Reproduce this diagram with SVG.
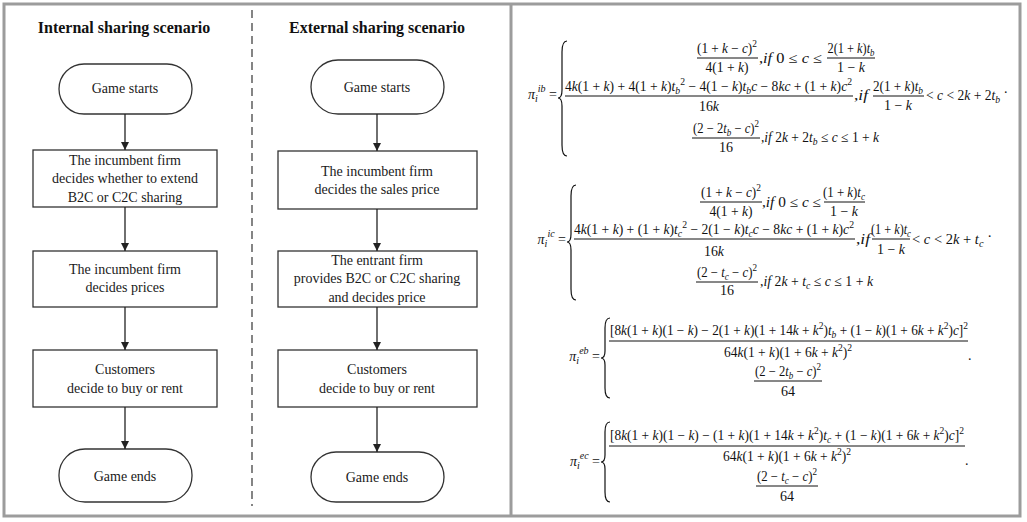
<svg xmlns="http://www.w3.org/2000/svg" width="1027" height="522" viewBox="0 0 1027 522">
<defs>
<style>
.frame{fill:none;stroke:#9c9c9c;stroke-width:3}
.title{font-family:"Liberation Serif","Times New Roman",serif;font-size:16px;font-weight:bold;fill:#111;text-anchor:middle}
.box{fill:#fff;stroke:#333;stroke-width:1.3}
.lbl{font-family:"Liberation Serif","Times New Roman",serif;font-size:14px;fill:#1a1a1a;text-anchor:middle}
.conn{stroke:#222;stroke-width:1.3;fill:none}
.dash{stroke:#444;stroke-width:1.3;stroke-dasharray:8,5}
.m{font-family:"Liberation Serif","DejaVu Serif",serif;font-size:14px;fill:#111}
.c{text-anchor:middle}
.e{text-anchor:end}
.i{font-style:italic}
.s{font-size:10px}
.bar{stroke:#111;stroke-width:1}
.brace{fill:none;stroke:#111;stroke-width:1.2}
</style>
<marker id="ah" markerWidth="8" markerHeight="8" refX="8" refY="4" orient="auto" markerUnits="userSpaceOnUse">
<path d="M0,0 L8,4 L0,8 z" fill="#222"/>
</marker>
</defs>
<rect x="0" y="0" width="1027" height="522" fill="#fff"/>
<rect class="frame" x="4" y="4" width="1016" height="512"/>
<line x1="511" y1="4" x2="511" y2="516" stroke="#9c9c9c" stroke-width="3"/>

<line class="dash" x1="252" y1="10" x2="252" y2="506"/>
<text class="title" x="124" y="33">Internal sharing scenario</text>
<text class="title" x="377" y="33">External sharing scenario</text>

<g id="int-start"><rect class="box" x="59" y="64" width="133" height="50" rx="25"/><text class="lbl" x="125" y="93">Game starts</text></g>
<g id="int-decide-sharing"><rect class="box" x="33" y="150" width="184" height="57"/><text class="lbl" x="125" y="165">The incumbent firm</text><text class="lbl" x="125" y="183">decides whether to extend</text><text class="lbl" x="125" y="202">B2C or C2C sharing</text></g>
<g id="int-decide-prices"><rect class="box" x="33" y="251" width="184" height="56"/><text class="lbl" x="125" y="274">The incumbent firm</text><text class="lbl" x="125" y="292">decides prices</text></g>
<g id="int-customers"><rect class="box" x="33" y="350" width="184" height="57"/><text class="lbl" x="125" y="374">Customers</text><text class="lbl" x="125" y="393">decide to buy or rent</text></g>
<g id="int-end"><rect class="box" x="59" y="449" width="133" height="53" rx="26"/><text class="lbl" x="125" y="481">Game ends</text></g>

<g id="ext-start"><rect class="box" x="311" y="60" width="133" height="54" rx="27"/><text class="lbl" x="377" y="92">Game starts</text></g>
<g id="ext-sales-price"><rect class="box" x="278" y="151" width="199" height="58"/><text class="lbl" x="377" y="176">The incumbent firm</text><text class="lbl" x="377" y="194">decides the sales price</text></g>
<g id="ext-entrant"><rect class="box" x="278" y="251" width="199" height="56"/><text class="lbl" x="377" y="265">The entrant firm</text><text class="lbl" x="377" y="283">provides B2C or C2C sharing</text><text class="lbl" x="377" y="302">and decides price</text></g>
<g id="ext-customers"><rect class="box" x="278" y="350" width="199" height="57"/><text class="lbl" x="377" y="374">Customers</text><text class="lbl" x="377" y="393">decide to buy or rent</text></g>
<g id="ext-end"><rect class="box" x="311" y="452" width="133" height="50" rx="25"/><text class="lbl" x="377" y="482">Game ends</text></g>

<g id="connectors">
<line class="conn" x1="125" y1="114" x2="125" y2="150" marker-end="url(#ah)"/>
<line class="conn" x1="125" y1="207" x2="125" y2="251" marker-end="url(#ah)"/>
<line class="conn" x1="125" y1="307" x2="125" y2="350" marker-end="url(#ah)"/>
<line class="conn" x1="125" y1="407" x2="125" y2="449" marker-end="url(#ah)"/>
<line class="conn" x1="377" y1="114" x2="377" y2="151" marker-end="url(#ah)"/>
<line class="conn" x1="377" y1="209" x2="377" y2="251" marker-end="url(#ah)"/>
<line class="conn" x1="377" y1="307" x2="377" y2="350" marker-end="url(#ah)"/>
<line class="conn" x1="377" y1="407" x2="377" y2="452" marker-end="url(#ah)"/>
</g>

<g id="eq-ib">
<text class="m e" x="557" y="99"><tspan class="i">π</tspan><tspan class="i s" dy="3">i</tspan><tspan class="i s" dy="-10">ib</tspan><tspan dy="7"> =</tspan></text>
<path class="brace" d="M567,41 Q562,41 562,52 L562,90 Q562,98 558,98 Q562,98 562,106 L562,145 Q562,156 567,156"/>
<text class="m c" x="727" y="53" textLength="60" lengthAdjust="spacingAndGlyphs">(1 + <tspan class="i">k</tspan> − <tspan class="i">c</tspan>)<tspan class="s" dy="-6">2</tspan></text>
<line class="bar" x1="697" y1="58" x2="758" y2="58"/>
<text class="m c" x="727" y="72" textLength="43" lengthAdjust="spacingAndGlyphs">4(1 + <tspan class="i">k</tspan>)</text>
<text class="m" x="759" y="63" textLength="63" lengthAdjust="spacingAndGlyphs">,<tspan class="i">if</tspan> 0 ≤ <tspan class="i">c</tspan> ≤</text>
<text class="m c" x="851" y="53" textLength="47" lengthAdjust="spacingAndGlyphs">2(1 + <tspan class="i">k</tspan>)<tspan class="i">t</tspan><tspan class="i s" dy="3">b</tspan></text>
<line class="bar" x1="827" y1="58" x2="875" y2="58"/>
<text class="m c" x="851" y="72" textLength="28" lengthAdjust="spacingAndGlyphs">1 − <tspan class="i">k</tspan></text>

<text class="m" x="565" y="91" textLength="287" lengthAdjust="spacingAndGlyphs">4<tspan class="i">k</tspan>(1 + <tspan class="i">k</tspan>) + 4(1 + <tspan class="i">k</tspan>)<tspan class="i">t</tspan><tspan class="i s" dy="3">b</tspan><tspan class="s" dy="-9">2</tspan><tspan dy="6"> − 4(1 − </tspan><tspan class="i">k</tspan>)<tspan class="i">t</tspan><tspan class="i s" dy="3">b</tspan><tspan class="i" dy="-3">c</tspan> − 8<tspan class="i">kc</tspan> + (1 + <tspan class="i">k</tspan>)<tspan class="i">c</tspan><tspan class="s" dy="-6">2</tspan></text>
<line class="bar" x1="565" y1="96" x2="853" y2="96"/>
<text class="m c" x="709" y="111" textLength="20" lengthAdjust="spacingAndGlyphs">16<tspan class="i">k</tspan></text>
<text class="m" x="854" y="100" textLength="14" lengthAdjust="spacingAndGlyphs">,<tspan class="i">if</tspan></text>
<text class="m c" x="898" y="91" textLength="50" lengthAdjust="spacingAndGlyphs">2(1 + <tspan class="i">k</tspan>)<tspan class="i">t</tspan><tspan class="i s" dy="3">b</tspan></text>
<line class="bar" x1="873" y1="96" x2="924" y2="96"/>
<text class="m c" x="898" y="110" textLength="28" lengthAdjust="spacingAndGlyphs">1 − <tspan class="i">k</tspan></text>
<text class="m" x="926" y="100" textLength="82" lengthAdjust="spacingAndGlyphs">&lt; <tspan class="i">c</tspan> &lt; 2<tspan class="i">k</tspan> + 2<tspan class="i">t</tspan><tspan class="i s" dy="3">b</tspan><tspan dy="-6"> ·</tspan></text>

<text class="m c" x="726" y="133" textLength="66" lengthAdjust="spacingAndGlyphs">(2 − 2<tspan class="i">t</tspan><tspan class="i s" dy="3">b</tspan><tspan dy="-3"> − </tspan><tspan class="i">c</tspan>)<tspan class="s" dy="-6">2</tspan></text>
<line class="bar" x1="692" y1="138" x2="760" y2="138"/>
<text class="m c" x="726" y="152" textLength="14" lengthAdjust="spacingAndGlyphs">16</text>
<text class="m" x="761" y="142" textLength="118" lengthAdjust="spacingAndGlyphs">,<tspan class="i">if</tspan> 2<tspan class="i">k</tspan> + 2<tspan class="i">t</tspan><tspan class="i s" dy="3">b</tspan><tspan dy="-3"> ≤ </tspan><tspan class="i">c</tspan> ≤ 1 + <tspan class="i">k</tspan></text>
</g>

<g id="eq-ic">
<text class="m e" x="566" y="244"><tspan class="i">π</tspan><tspan class="i s" dy="3">i</tspan><tspan class="i s" dy="-10">ic</tspan><tspan dy="7"> =</tspan></text>
<path class="brace" d="M576,185 Q571,185 571,196 L571,234 Q571,242 567,242 Q571,242 571,250 L571,289 Q571,300 576,300"/>
<text class="m c" x="731" y="197" textLength="60" lengthAdjust="spacingAndGlyphs">(1 + <tspan class="i">k</tspan> − <tspan class="i">c</tspan>)<tspan class="s" dy="-6">2</tspan></text>
<line class="bar" x1="700" y1="202" x2="762" y2="202"/>
<text class="m c" x="731" y="216" textLength="43" lengthAdjust="spacingAndGlyphs">4(1 + <tspan class="i">k</tspan>)</text>
<text class="m" x="762" y="207" textLength="59" lengthAdjust="spacingAndGlyphs">,<tspan class="i">if</tspan> 0 ≤ <tspan class="i">c</tspan> ≤</text>
<text class="m c" x="844" y="197" textLength="42" lengthAdjust="spacingAndGlyphs">(1 + <tspan class="i">k</tspan>)<tspan class="i">t</tspan><tspan class="i s" dy="3">c</tspan></text>
<line class="bar" x1="824" y1="202" x2="865" y2="202"/>
<text class="m c" x="844" y="216" textLength="28" lengthAdjust="spacingAndGlyphs">1 − <tspan class="i">k</tspan></text>

<text class="m" x="574" y="234" textLength="280" lengthAdjust="spacingAndGlyphs">4<tspan class="i">k</tspan>(1 + <tspan class="i">k</tspan>) + (1 + <tspan class="i">k</tspan>)<tspan class="i">t</tspan><tspan class="i s" dy="3">c</tspan><tspan class="s" dy="-9">2</tspan><tspan dy="6"> − 2(1 − </tspan><tspan class="i">k</tspan>)<tspan class="i">t</tspan><tspan class="i s" dy="3">c</tspan><tspan class="i" dy="-3">c</tspan> − 8<tspan class="i">kc</tspan> + (1 + <tspan class="i">k</tspan>)<tspan class="i">c</tspan><tspan class="s" dy="-6">2</tspan></text>
<line class="bar" x1="574" y1="239" x2="855" y2="239"/>
<text class="m c" x="714" y="256" textLength="20" lengthAdjust="spacingAndGlyphs">16<tspan class="i">k</tspan></text>
<text class="m" x="856" y="244" textLength="14" lengthAdjust="spacingAndGlyphs">,<tspan class="i">if</tspan></text>
<text class="m c" x="891" y="234" textLength="40" lengthAdjust="spacingAndGlyphs">(1 + <tspan class="i">k</tspan>)<tspan class="i">t</tspan><tspan class="i s" dy="3">c</tspan></text>
<line class="bar" x1="872" y1="239" x2="910" y2="239"/>
<text class="m c" x="891" y="254" textLength="28" lengthAdjust="spacingAndGlyphs">1 − <tspan class="i">k</tspan></text>
<text class="m" x="912" y="244" textLength="80" lengthAdjust="spacingAndGlyphs">&lt; <tspan class="i">c</tspan> &lt; 2<tspan class="i">k</tspan> + <tspan class="i">t</tspan><tspan class="i s" dy="3">c</tspan><tspan dy="-6"> ·</tspan></text>

<text class="m c" x="727" y="277" textLength="60" lengthAdjust="spacingAndGlyphs">(2 − <tspan class="i">t</tspan><tspan class="i s" dy="3">c</tspan><tspan dy="-3"> − </tspan><tspan class="i">c</tspan>)<tspan class="s" dy="-6">2</tspan></text>
<line class="bar" x1="696" y1="282" x2="758" y2="282"/>
<text class="m c" x="727" y="295" textLength="14" lengthAdjust="spacingAndGlyphs">16</text>
<text class="m" x="760" y="286" textLength="113" lengthAdjust="spacingAndGlyphs">,<tspan class="i">if</tspan> 2<tspan class="i">k</tspan> + <tspan class="i">t</tspan><tspan class="i s" dy="3">c</tspan><tspan dy="-3"> ≤ </tspan><tspan class="i">c</tspan> ≤ 1 + <tspan class="i">k</tspan></text>
</g>

<g id="eq-eb">
<text class="m e" x="600" y="361"><tspan class="i">π</tspan><tspan class="i s" dy="3">i</tspan><tspan class="i s" dy="-10">eb</tspan><tspan dy="7"> =</tspan></text>
<path class="brace" d="M610,318 Q605,318 605,328 L605,351 Q605,358 601,358 Q605,358 605,365 L605,388 Q605,398 610,398"/>
<text class="m" x="610" y="335" textLength="358" lengthAdjust="spacingAndGlyphs">[8<tspan class="i">k</tspan>(1 + <tspan class="i">k</tspan>)(1 − <tspan class="i">k</tspan>) − 2(1 + <tspan class="i">k</tspan>)(1 + 14<tspan class="i">k</tspan> + <tspan class="i">k</tspan><tspan class="s" dy="-6">2</tspan><tspan dy="6">)</tspan><tspan class="i">t</tspan><tspan class="i s" dy="3">b</tspan><tspan dy="-3"> + (1 − </tspan><tspan class="i">k</tspan>)(1 + 6<tspan class="i">k</tspan> + <tspan class="i">k</tspan><tspan class="s" dy="-6">2</tspan><tspan dy="6">)</tspan><tspan class="i">c</tspan>]<tspan class="s" dy="-6">2</tspan></text>
<line class="bar" x1="609" y1="341" x2="968" y2="341"/>
<text class="m c" x="788" y="357" textLength="128" lengthAdjust="spacingAndGlyphs">64<tspan class="i">k</tspan>(1 + <tspan class="i">k</tspan>)(1 + 6<tspan class="i">k</tspan> + <tspan class="i">k</tspan><tspan class="s" dy="-6">2</tspan><tspan dy="6">)</tspan><tspan class="s" dy="-6">2</tspan></text>
<text class="m c" x="788" y="376" textLength="66" lengthAdjust="spacingAndGlyphs">(2 − 2<tspan class="i">t</tspan><tspan class="i s" dy="3">b</tspan><tspan dy="-3"> − </tspan><tspan class="i">c</tspan>)<tspan class="s" dy="-6">2</tspan></text>
<line class="bar" x1="754" y1="381" x2="822" y2="381"/>
<text class="m c" x="788" y="396" textLength="14" lengthAdjust="spacingAndGlyphs">64</text>
<text class="m" x="968" y="360">.</text>
</g>

<g id="eq-ec">
<text class="m e" x="600" y="466"><tspan class="i">π</tspan><tspan class="i s" dy="3">i</tspan><tspan class="i s" dy="-10">ec</tspan><tspan dy="7"> =</tspan></text>
<path class="brace" d="M610,422 Q605,422 605,432 L605,455 Q605,462 601,462 Q605,462 605,469 L605,492 Q605,502 610,502"/>
<text class="m" x="610" y="440" textLength="354" lengthAdjust="spacingAndGlyphs">[8<tspan class="i">k</tspan>(1 + <tspan class="i">k</tspan>)(1 − <tspan class="i">k</tspan>) − (1 + <tspan class="i">k</tspan>)(1 + 14<tspan class="i">k</tspan> + <tspan class="i">k</tspan><tspan class="s" dy="-6">2</tspan><tspan dy="6">)</tspan><tspan class="i">t</tspan><tspan class="i s" dy="3">c</tspan><tspan dy="-3"> + (1 − </tspan><tspan class="i">k</tspan>)(1 + 6<tspan class="i">k</tspan> + <tspan class="i">k</tspan><tspan class="s" dy="-6">2</tspan><tspan dy="6">)</tspan><tspan class="i">c</tspan>]<tspan class="s" dy="-6">2</tspan></text>
<line class="bar" x1="609" y1="446" x2="965" y2="446"/>
<text class="m c" x="787" y="461" textLength="128" lengthAdjust="spacingAndGlyphs">64<tspan class="i">k</tspan>(1 + <tspan class="i">k</tspan>)(1 + 6<tspan class="i">k</tspan> + <tspan class="i">k</tspan><tspan class="s" dy="-6">2</tspan><tspan dy="6">)</tspan><tspan class="s" dy="-6">2</tspan></text>
<text class="m c" x="787" y="481" textLength="60" lengthAdjust="spacingAndGlyphs">(2 − <tspan class="i">t</tspan><tspan class="i s" dy="3">c</tspan><tspan dy="-3"> − </tspan><tspan class="i">c</tspan>)<tspan class="s" dy="-6">2</tspan></text>
<line class="bar" x1="756" y1="486" x2="818" y2="486"/>
<text class="m c" x="787" y="501" textLength="14" lengthAdjust="spacingAndGlyphs">64</text>
<text class="m" x="965" y="465">.</text>
</g>
</svg>
